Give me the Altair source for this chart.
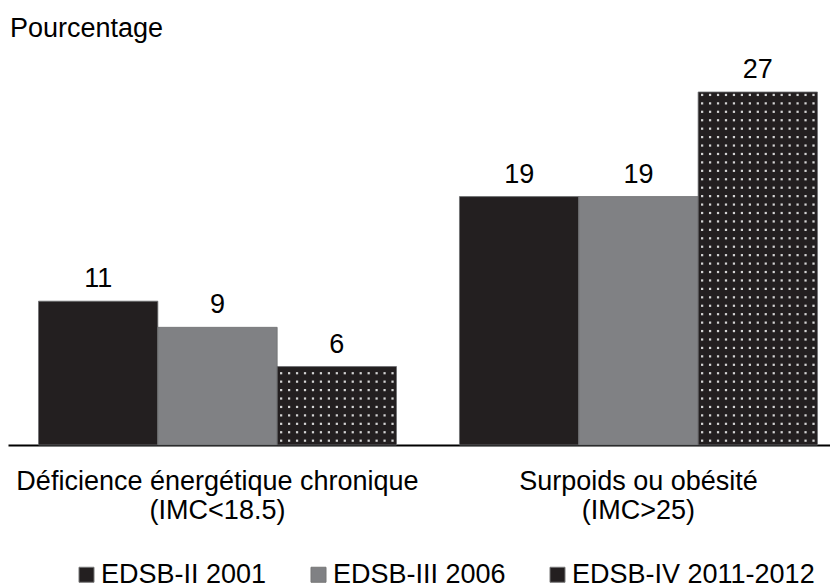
import altair as alt
import pandas as pd

categories = ["Déficience énergétique chronique (IMC<18.5)", "Surpoids ou obésité (IMC>25)"]
series = ["EDSB-II 2001", "EDSB-III 2006", "EDSB-IV 2011-2012"]
values_2001 = [11, 19]
values_2006 = [9, 19]
values_2011 = [6, 27]
colors = ["#231f20", "#808184", "#231f20"]
y_title = ["Pourcentage"]

rows = []
for s, vals in zip(series, [values_2001, values_2006, values_2011]):
    for c, v in zip(categories, vals):
        rows.append({"category": c, "series": s, "value": v})
df = pd.DataFrame(rows)

FONT = "Liberation Sans"

x_enc = alt.X(
    "category:N",
    sort=categories,
    title=None,
    scale=alt.Scale(paddingInner=0.1496, paddingOuter=0.0511, align=0.709),
    axis=alt.Axis(
        labelAngle=0,
        labelFontSize=27,
        labelFont=FONT,
        labelColor="#000000",
        labelLineHeight=29,
        labelPadding=23,
        labelLimit=0,
        ticks=False,
        domainColor="#000000",
        domainWidth=2,
        labelExpr="[slice(datum.label, 0, indexof(datum.label, ' (')), slice(datum.label, indexof(datum.label, ' (') + 1)]",
    ),
)
y_enc = alt.Y("value:Q", scale=alt.Scale(domain=[0, 27], nice=False), axis=None)
xoff = alt.XOffset("series:N", sort=series, scale=alt.Scale(paddingInner=0, paddingOuter=0))

base = alt.Chart(df)

bars = base.mark_bar(stroke="#6d6e71", strokeWidth=0.8).encode(
    x=x_enc,
    xOffset=xoff,
    y=y_enc,
    color=alt.Color(
        "series:N",
        sort=series,
        scale=alt.Scale(domain=series, range=colors),
        legend=alt.Legend(
            title=None,
            orient="none",
            direction="horizontal",
            legendX=65,
            legendY=469,
            gridAlign="each",
            symbolType="square",
            symbolSize=225,
            symbolStrokeColor="#777777",
            symbolStrokeWidth=1,
            symbolOpacity=1,
            labelFontSize=27,
            labelFont=FONT,
            labelColor="#000000",
            labelOffset=1,
            columnPadding=38,
            labelLimit=0,
            padding=0,
        ),
    ),
)

labels = base.mark_text(
    baseline="alphabetic", dy=-14, fontSize=27, font=FONT, color="#000000"
).encode(
    x=alt.X("category:N", sort=categories),
    xOffset=xoff,
    y=alt.Y("value:Q"),
    text=alt.Text("value:Q"),
)

dots = (
    base.transform_filter(alt.datum.series == series[2])
    .transform_calculate(rowpos="sequence(0.33, datum.value - 0.1, 0.645)")
    .transform_flatten(["rowpos"])
    .transform_calculate(colidx="sequence(0, 15)")
    .transform_flatten(["colidx"])
    .transform_calculate(off="2 + (datum.colidx + 0.5) / 15")
    .mark_square(size=5, color="#d4d4d4", opacity=1)
    .encode(
        x=alt.X("category:N", sort=categories),
        xOffset=alt.XOffset("off:Q", scale=alt.Scale(domain=[0, 3], nice=False, zero=False)),
        y=alt.Y("rowpos:Q"),
    )
)

title_mark = (
    alt.Chart(pd.DataFrame({"t": y_title}))
    .mark_text(align="left", baseline="alphabetic", fontSize=27, font=FONT, color="#000000")
    .encode(text="t:N", x=alt.value(2), y=alt.value(-55))
)

chart = (
    alt.layer(alt.layer(bars, labels), dots, title_mark)
    .resolve_scale(xOffset="independent")
    .properties(
        width=822,
        height=353,
        autosize=alt.AutoSizeParams(type="none"),
        padding={"left": 0, "top": 84, "right": 0, "bottom": 143},
    )
    .configure_view(stroke=None)
)

chart.save("out.html", embed_options={"renderer": "svg", "actions": False})
